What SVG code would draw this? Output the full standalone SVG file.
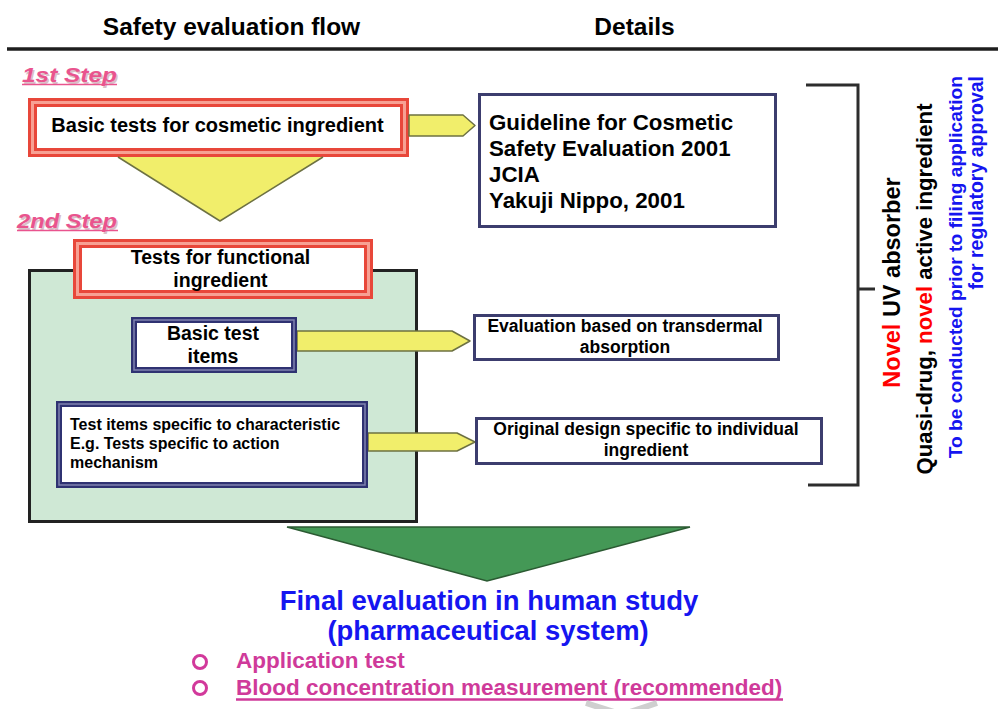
<svg xmlns="http://www.w3.org/2000/svg" width="1005" height="709" viewBox="0 0 1005 709">
<style>
  text { font-family: "Liberation Sans", Arial, sans-serif; font-weight: bold; fill: #000; }
  .hdr { font-size: 24.5px; text-anchor: middle; }
  .redout { fill: #fff; stroke: #e8473a; stroke-width: 9; }
  .redin { fill: none; stroke: #f7a093; stroke-width: 3; }
  .navyout { fill: #fff; stroke: #2f3272; stroke-width: 6; }
  .navyin { fill: none; stroke: #8083b0; stroke-width: 1.5; }
  .detail { fill: #fff; stroke: #3c3d6e; stroke-width: 3; }
  .yarrow { fill: #f1ee6b; stroke: #6d7142; stroke-width: 1.5; stroke-linejoin: round; }
  .step { font-style: italic; fill: #e9548e; font-size: 20px; }
  .stepsh { font-style: italic; fill: #d9c0c8; font-size: 20px; }
  .mid { text-anchor: middle; }
  .blue { fill: #1515f0; }
  .mag { fill: #cf3a9a; font-size: 22.5px; }
  .red { fill: #ff0000; }
</style>

<!-- header -->
<g id="header">
  <text class="hdr" x="231.5" y="35">Safety evaluation flow</text>
  <text class="hdr" x="634.5" y="35">Details</text>
  <line x1="7" y1="49" x2="998" y2="49" stroke="#1e1e1e" stroke-width="3.5"/>
</g>

<!-- step labels -->
<g id="step1-label">
  <text class="stepsh" x="23.5" y="83.5" textLength="95" lengthAdjust="spacingAndGlyphs">1st Step</text>
  <text class="step" x="22" y="82" textLength="95" lengthAdjust="spacingAndGlyphs">1st Step</text>
  <line x1="22" y1="84.5" x2="117" y2="84.5" stroke="#e9548e" stroke-width="1.5"/>
</g>
<g id="step2-label">
  <text class="stepsh" x="18.5" y="229.5" textLength="100" lengthAdjust="spacingAndGlyphs">2nd Step</text>
  <text class="step" x="17" y="228" textLength="100" lengthAdjust="spacingAndGlyphs">2nd Step</text>
  <line x1="17" y1="230.5" x2="118" y2="230.5" stroke="#e9548e" stroke-width="1.5"/>
</g>

<!-- 1st step node -->
<g id="basic-cosmetic">
  <rect class="redout" x="32.5" y="102.5" width="372" height="50"/>
  <rect class="redin" x="32.5" y="102.5" width="372" height="50"/>
  <text class="mid" x="217.5" y="132" font-size="20">Basic tests for cosmetic ingredient</text>
</g>

<!-- 2nd step container -->
<g id="functional-container">
  <rect x="29.5" y="270.5" width="387" height="251" fill="#cfe8d5" stroke="#222" stroke-width="3"/>
</g>

<!-- connectors -->
<g id="connectors">
  <path class="yarrow" d="M118,157 L220,221 L323,157"/>
  <path class="yarrow" d="M409,115 L463,115 L475,125.5 L463,136 L409,136 Z"/>
  <path class="yarrow" d="M297,331 L452,331 L470,341 L452,351 L297,351 Z"/>
  <path class="yarrow" d="M368,433 L457,433 L475,442 L457,451 L368,451 Z"/>
  <polygon points="287,527 690,527 487,581" fill="#449856" stroke="#2b5a32" stroke-width="1.5"/>
  <path d="M806,85 H858 V485 H808 M858,289 H875" fill="none" stroke="#2d2d2d" stroke-width="3"/>
</g>

<g id="functional-title">
  <rect class="redout" x="77.5" y="243.5" width="291" height="51"/>
  <rect class="redin" x="77.5" y="243.5" width="291" height="51"/>
  <text class="mid" x="220.5" y="264" font-size="19.5">Tests for functional</text>
  <text class="mid" x="220.5" y="287" font-size="19.5">ingredient</text>
</g>
<g id="basic-test-items">
  <rect class="navyout" x="134" y="320" width="160" height="50"/>
  <rect class="navyin" x="134" y="320" width="160" height="50"/>
  <text class="mid" x="213" y="340" font-size="19.5">Basic test</text>
  <text class="mid" x="213" y="363" font-size="19.5">items</text>
</g>
<g id="specific-test-items">
  <rect class="navyout" x="59" y="404" width="306" height="81"/>
  <rect class="navyin" x="59" y="404" width="306" height="81"/>
  <text x="70" y="430" font-size="16">Test items specific to characteristic</text>
  <text x="70" y="449" font-size="16">E.g. Tests specific to action</text>
  <text x="70" y="468" font-size="16">mechanism</text>
</g>

<!-- details -->
<g id="guideline">
  <rect class="detail" x="479.5" y="94.5" width="296" height="132"/>
  <text x="489" y="130" font-size="22.3">Guideline for Cosmetic</text>
  <text x="489" y="156" font-size="22.3">Safety Evaluation 2001</text>
  <text x="489" y="182" font-size="22.3">JCIA</text>
  <text x="489" y="208" font-size="22.3">Yakuji Nippo, 2001</text>
</g>
<g id="transdermal">
  <rect class="detail" x="474.5" y="315.5" width="304" height="44"/>
  <text class="mid" x="625" y="332" font-size="17.5">Evaluation based on transdermal</text>
  <text class="mid" x="625" y="353" font-size="17.5">absorption</text>
</g>
<g id="original-design">
  <rect class="detail" x="476.5" y="418.5" width="345" height="45"/>
  <text class="mid" x="646" y="435" font-size="17.5">Original design specific to individual</text>
  <text class="mid" x="646" y="456" font-size="17.5">ingredient</text>
</g>

<!-- side labels -->
<g id="scope-labels">
  <text transform="translate(900,282.5) rotate(-90)" class="mid" font-size="23.5"><tspan class="red">Novel</tspan> UV absorber</text>
  <text transform="translate(932,289) rotate(-90)" class="mid" font-size="22.2">Quasi-drug, <tspan class="red">novel</tspan> active ingredient</text>
  <text transform="translate(962,76) rotate(-90)" class="blue" text-anchor="end" font-size="19.2">To be conducted prior to filing application</text>
  <text transform="translate(983,76) rotate(-90)" class="blue" text-anchor="end" font-size="19.5">for regulatory approval</text>
</g>

<!-- final evaluation -->
<g id="final-evaluation">
  <text class="mid blue" x="489" y="610" font-size="27.5">Final evaluation in human study</text>
  <text class="mid blue" x="488" y="640" font-size="27.4">(pharmaceutical system)</text>
  <circle cx="200" cy="662" r="6.5" fill="none" stroke="#d2399b" stroke-width="3"/>
  <circle cx="200" cy="688" r="6.5" fill="none" stroke="#d2399b" stroke-width="3"/>
  <text class="mag" x="236" y="668">Application test</text>
  <text class="mag" x="236" y="695">Blood concentration measurement (recommended)</text>
  <line x1="236" y1="699.5" x2="783" y2="699.5" stroke="#cf3a9a" stroke-width="2.5"/>
</g>

<g id="watermark">
  <path d="M586,703 L614,712 M657,703 L630,712" fill="none" stroke="#cfcfcf" stroke-width="6"/>
</g>
</svg>
